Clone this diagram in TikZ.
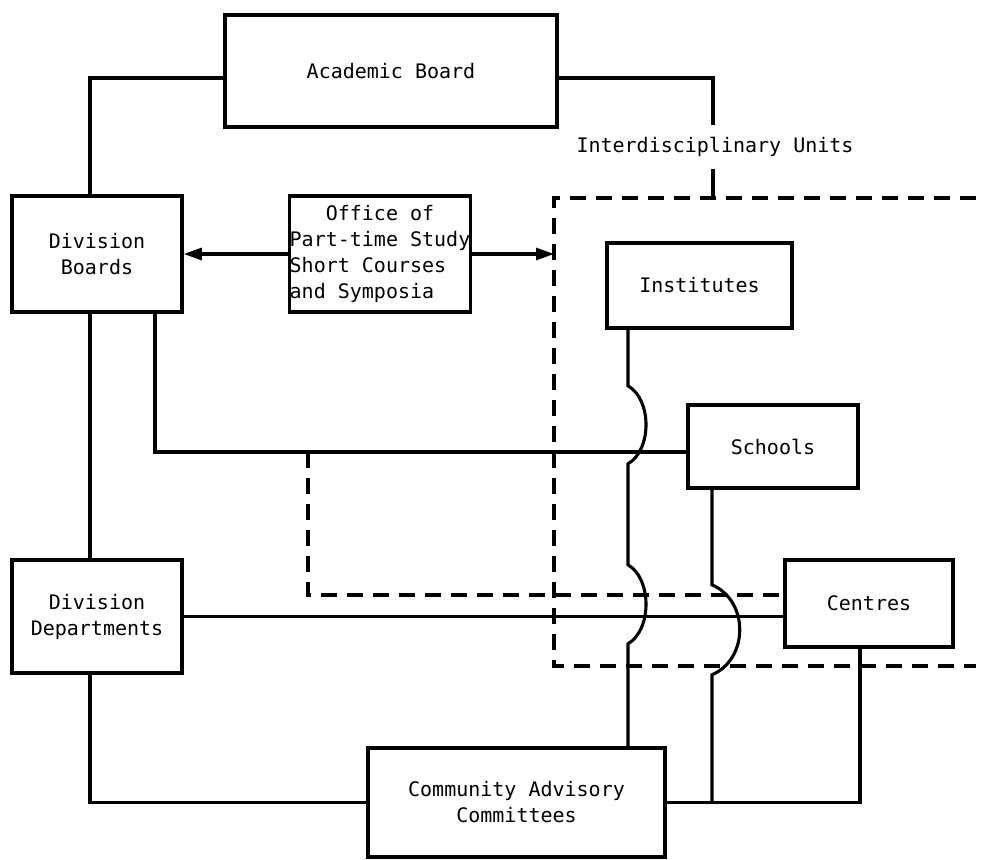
\documentclass[tikz,border=0pt]{standalone}
\usepackage{fontspec}
\setmonofont{DejaVu Sans Mono}
\usetikzlibrary{arrows.meta}
\newcommand{\orgfont}{\ttfamily\fontsize{20}{26}\selectfont}

\begin{document}
\begin{tikzpicture}[x=1pt,y=-1pt,
  box/.style={draw, line width=3.6pt, rectangle, inner sep=0pt, align=center, font=\orgfont},
  link/.style={line width=3.1pt},
  dashlink/.style={line width=3.4pt, dash pattern=on 16pt off 10pt},
  tip/.style={-{Triangle[length=18pt,width=12pt]}},
]
\useasboundingbox (0,0) rectangle (981,859);

% boxes
\node[box, minimum width=332pt, minimum height=112pt] (ab) at (391,71) {Academic Board};
\node[box, minimum width=170pt, minimum height=116pt] (db) at (97,254) {Division\\Boards};
\node[box, minimum width=180pt, minimum height=116pt] (of) at (380,254)
  {\begin{tabular}{@{}l@{}}\multicolumn{1}{@{}c@{}}{Office of}\\Part-time Study\\Short Courses\\and Symposia\end{tabular}};
\node[box, minimum width=185pt, minimum height=85pt] (in) at (699.5,285.5) {Institutes};
\node[box, minimum width=170pt, minimum height=83pt] (sc) at (773,446.5) {Schools};
\node[box, minimum width=168pt, minimum height=87pt] (ce) at (869,603.5) {Centres};
\node[box, minimum width=170pt, minimum height=113pt] (dd) at (97,616.5) {Division\\Departments};
\node[box, minimum width=297pt, minimum height=109pt] (cac) at (516.5,802.5) {Community Advisory\\Committees};
\node[font=\orgfont, inner sep=0pt, minimum height=43pt] (iu) at (715,147) {Interdisciplinary Units};

% dashed frame of the interdisciplinary units
\coordinate (dtl) at (554,198);
\coordinate (dbl) at (554,666);
\coordinate (dtr) at (976,198);
\coordinate (dbr) at (976,666);
\draw[dashlink] (dtr) -- (dtl) -- (dbl) -- (dbr);

% connectors from the academic board
\draw[link] ([yshift=-7pt]ab.west) -| ([xshift=-7pt]db.north);
\draw[link] ([yshift=-7pt]ab.east) -| ([xshift=-2pt]iu.north);
\draw[link] ([xshift=-2pt]iu.south) -- ([xshift=-2pt]iu.south |- dtl);

% office of part-time study
\draw[link, tip] (of.west) -- (db.east);
\draw[link, tip] (of.east) -- (of.east -| dtl);

% division boards and departments
\draw[link] ([xshift=-7pt]db.south) -- ([xshift=-7pt]dd.north);
\draw[link] ([xshift=58pt]db.south) |- ([yshift=-5.5pt]sc.west);
\coordinate (br) at (308,452);
\draw[dashlink] (br) |- ([yshift=8.5pt]ce.west);
\draw[link] (dd.east) -- (dd.east -| ce.west);
\draw[link] ([xshift=-7pt]dd.south) |- (cac.west);
\draw[link] (cac.east) -| ([xshift=-9pt]ce.south);

% institutes down to the committees, hopping over crossings
\coordinate (ia) at ([xshift=-71.5pt]in.south);
\draw[link] (ia) -- ++(0,56)
  .. controls +(24,14) and +(24,-14) .. ++(0,78)
  -- ++(0,101)
  .. controls +(24,14) and +(24,-14) .. ++(0,79)
  -- (ia |- cac.north);

% schools down to the committees line
\coordinate (sa) at ([xshift=-61pt]sc.south);
\draw[link] (sa) -- ++(0,95)
  .. controls +(37,16) and +(37,-16) .. ++(0,90)
  -- (sa |- cac.east);
\end{tikzpicture}
\end{document}
